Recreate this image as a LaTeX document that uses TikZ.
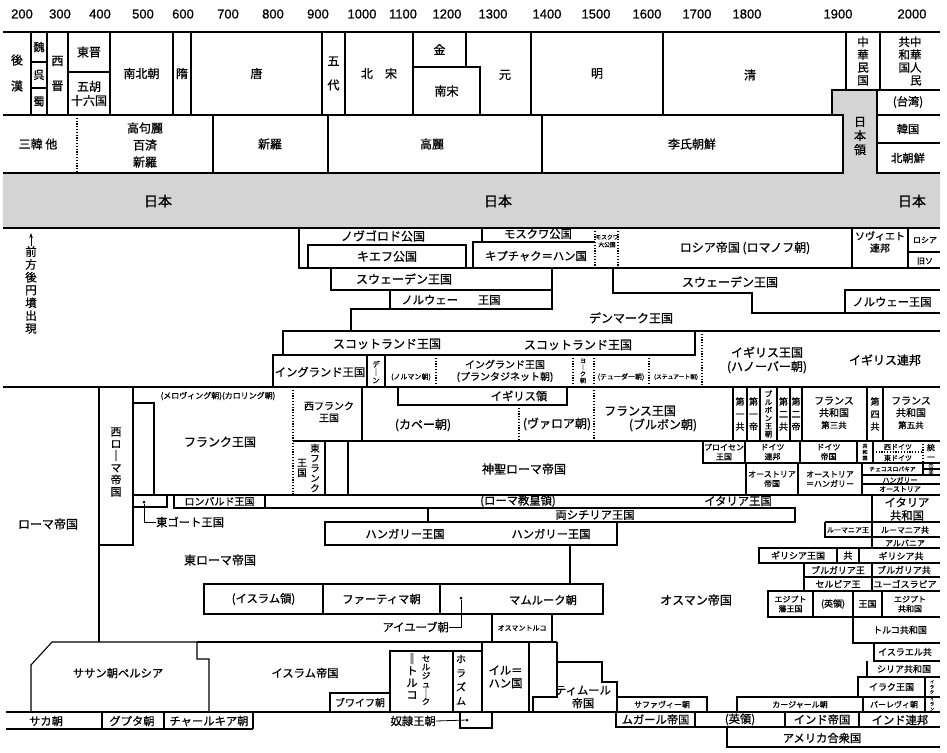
\documentclass[tikz,border=0pt]{standalone}
\usepackage{fontspec}
\setmainfont{Noto Sans CJK JP}[FakeBold=0.8]
\newfontfamily\yearfont{Liberation Sans}[FakeBold=0.8]
\usetikzlibrary{arrows.meta}

\begin{document}
\begin{tikzpicture}[x=1pt, y=-1pt]
  \tikzset{
    era_line/.style={draw=black, line width=1.1pt},
    era_dotted/.style={draw=black, line width=1.1pt, dash pattern=on 1.2pt off 1.6pt},
    era_thin/.style={draw=black, line width=0.8pt},
    japan_fill/.style={fill=black!17},
    era_text/.style={inner sep=0pt, align=center},
    txt_year/.style={inner sep=0pt, font=\yearfont\fontsize{13}{14}\selectfont},
    txt_14/.style={era_text, font=\fontsize{14}{16}\selectfont},
    txt_12/.style={era_text, font=\fontsize{12}{14}\selectfont},
    txt_11/.style={era_text, font=\fontsize{11.3}{13}\selectfont},
    txt_10/.style={era_text, font=\fontsize{10}{12}\selectfont},
    txt_9/.style={era_text, font=\fontsize{9}{10.5}\selectfont},
    txt_8/.style={era_text, font=\fontsize{8}{9.5}\selectfont},
    txt_7/.style={era_text, font=\fontsize{7}{8}\selectfont},
    txt_6/.style={era_text, font=\fontsize{5.8}{7.5}\selectfont},
    txt_5/.style={era_text, font=\fontsize{4.8}{5.5}\selectfont},
    vert_12/.style={era_text, font=\fontsize{11.5}{12.8}\selectfont},
    vert_11/.style={era_text, font=\fontsize{11}{12}\selectfont},
    vert_10/.style={era_text, font=\fontsize{9.5}{10}\selectfont},
    vert_9/.style={era_text, font=\fontsize{9}{12.5}\selectfont},
    vert_8/.style={era_text, font=\fontsize{8.5}{8.6}\selectfont},
    vert_7/.style={era_text, font=\fontsize{7.5}{8}\selectfont},
    vert_6/.style={era_text, font=\fontsize{6}{6.6}\selectfont},
    vert_5/.style={era_text, font=\fontsize{5}{6}\selectfont},
    vert_4/.style={era_text, font=\fontsize{4.2}{5}\selectfont},
    era_dot/.style={circle, fill=black, inner sep=0pt, minimum size=3pt},
    kofun_arrow/.style={-{Stealth[length=5pt, width=3.5pt]}, line width=0.9pt}
  }
  \useasboundingbox[fill=white] (0,0) rectangle (947,752);

  % year axis
  \foreach \yr/\xp in {200/22,300/60,400/100,500/143,600/183,700/228,800/273,900/318,
                       1000/362,1100/403,1200/447,1300/493,1400/547,1500/596,1600/647,
                       1700/697,1800/747,1900/838,2000/912}
    \node[txt_year] (yr-\yr) at (\xp,14) {\yr};

  % China and Korea rows
  \draw[era_line] (3,32) -- (940,32);
  \draw[era_line] (3,115) -- (832,115);
  \draw[era_line] (877,90) -- (940,90);
  \draw[era_line] (877,115) -- (940,115);
  \draw[era_line] (877,143) -- (940,143);
  \draw[era_dotted] (77,115) -- (77,173);
  \foreach \xp in {213,328,542}
    \draw[era_line] (\xp,115) -- (\xp,173);

  % Japan band
  \fill[japan_fill] (3,173) -- (843,173) -- (843,115) -- (832,115) -- (832,90) -- (877,90)
    -- (877,173) -- (940,173) -- (940,228) -- (3,228) -- cycle;
  \draw[era_line] (3,173) -- (843,173) -- (843,115) -- (832,115) -- (832,90) -- (877,90)
    -- (877,173) -- (940,173);
  \draw[era_line] (3,228) -- (940,228);

  % Russia and Scandinavia
  \draw[era_line] (299,228) -- (299,268) -- (473,268);
  \draw[era_line] (482,228) -- (482,242);
  \draw[era_line] (595,242) -- (473,242) -- (473,268) -- (940,268);
  \draw[era_dotted] (595,228) -- (595,268);
  \draw[era_dotted] (618,228) -- (618,268);
  \draw[era_line] (852,228) -- (852,268);
  \draw[era_line] (908,228) -- (908,268);
  \draw[era_line] (908,252) -- (940,252);
  \draw[era_line] (331,268) rectangle (552,290);
  \draw[era_line] (390,290) rectangle (552,309);
  \draw[era_line] (351,331) -- (351,309) -- (390,309);
  \draw[era_line] (613,268) -- (613,293) -- (752,293) -- (752,313) -- (940,313);
  \draw[era_line] (940,290) -- (845,290) -- (845,313);

  % Britain
  \draw[era_line] (283,331) rectangle (695,355);
  \draw[era_line] (695,331) -- (940,331);
  \draw[era_dotted] (702,331) -- (702,387);
  \draw[era_line] (283,355) -- (273,355) -- (273,387);
  \foreach \xp in {367,385}
    \draw[era_line] (\xp,355) -- (\xp,387);
  \foreach \xp in {436,573,594,649}
    \draw[era_dotted] (\xp,355) -- (\xp,387);

  % Western and Central Europe
  \draw[era_line] (3,387) -- (940,387);
  \draw[era_line] (99,387) -- (99,642);
  \draw[era_line] (99,545) -- (133,545) -- (133,387);
  \draw[era_line] (133,403) -- (154,403) -- (154,495);
  \draw[era_dotted] (293,387) -- (293,495);
  \draw[era_line] (362,387) -- (362,441);
  \draw[era_line] (293,441) -- (940,441);
  \draw[era_line] (325,441) -- (325,495);
  \draw[era_line] (348,441) -- (348,495);
  \draw[era_line] (398,387) rectangle (567,405);
  \draw[era_dotted] (519,405) -- (519,441);
  \draw[era_dotted] (594,387) -- (594,441);
  \foreach \xp in {733,747,760,777,790,802,867,883}
    \draw[era_line] (\xp,387) -- (\xp,441);
  \draw[era_line] (873,463) -- (940,463);
  \draw[era_dotted] (923,441) -- (923,463);
  \draw[era_dotted] (873,452) -- (923,452);
  \draw[era_line] (923,469) -- (940,469);
  \draw[era_line] (862,475) -- (940,475);
  \draw[era_line] (862,484) -- (940,484);
  \draw[era_line] (133,495) -- (940,495);
  \draw[era_line] (133,495) rectangle (167,507);
  \draw[era_line] (265,508) -- (428,508);
  \draw[era_line] (428,508) rectangle (795,522);
  \draw[era_line] (325,522) rectangle (617,545);
  \draw[era_line] (872,495) -- (872,548);
  \draw[era_line] (825,522) -- (940,522);
  \draw[era_line] (825,522) -- (825,537) -- (940,537);
  \draw[era_line] (759,548) -- (940,548);
  \draw[era_line] (859,563) -- (940,563);
  \draw[era_line] (872,577) -- (940,577);
  \draw[era_line] (872,591) -- (940,591);
  \draw[era_line] (882,617) -- (940,617);

  % Middle East and India
  \draw[era_line] (570,545) -- (570,584);
  \draw[era_line] (440,584) rectangle (603,614);
  \draw[era_line] (853,617) -- (853,643) -- (940,643);
  \draw[era_line] (874,643) -- (874,661) -- (940,661);
  \draw[era_line] (867,661) -- (867,677) -- (940,677);
  \draw[era_line] (925,697) -- (940,697);
  \draw[era_line] (31,712) -- (31,665) -- (52,642) -- (197,642) -- (197,659) -- (209,659) -- (209,712);
  \draw[era_line] (197,642) -- (557,642);
  \draw[era_line] (390,651) rectangle (453,712);
  \draw[era_line] (453,651) rectangle (482,712);
  \draw[era_line] (557,642) -- (557,697) -- (533,697) -- (533,712);
  \draw[era_line] (557,662) -- (602,662) -- (602,682) -- (617,682) -- (617,697);
  \draw[era_line] (6,712) -- (940,712);
  \draw[era_line] (6,729) -- (253,729);
  \foreach \xp in {102,164,253}
    \draw[era_line] (\xp,712) -- (\xp,729);
  \draw[era_line] (460,712) rectangle (492,728);
  \draw[era_line] (859,727) -- (940,727);
  \draw[era_line] (727,727) -- (727,747) -- (940,747);

  % boxes with a centred label
  \foreach \xa/\ya/\xb/\yb/\nm/\st/\txt in {
      31/32/47/62/c_wei/txt_11/魏,
      31/62/47/88/c_wu/txt_11/呉,
      31/88/47/115/c_shu/txt_11/蜀,
      47/32/68/115/c_xijin/txt_12/{西\\[11pt]晋},
      68/32/110/72/c_dongjin/txt_12/東晋,
      68/72/110/115/c_wuhu/txt_12/{五胡\\十六国},
      110/32/173/115/c_nanbei/txt_12/南北朝,
      173/32/191/115/c_sui/txt_12/隋,
      191/32/322/115/c_tang/txt_12/唐,
      322/32/345/115/c_wudai/txt_12/{五\\[10pt]代},
      345/32/413/115/c_bsong/txt_12/{北\quad 宋},
      413/32/466/67/c_jin/txt_12/金,
      413/67/480/115/c_nsong/txt_12/南宋,
      531/32/663/115/c_ming/txt_12/明,
      846/32/880/90/c_roc/vert_12/{中\\華\\民\\国},
      308/245/466/268/r_kiev/txt_12/キエフ公国,
      703/441/745/463/g_prussia/txt_8/{プロイセン\\王国},
      745/441/800/463/g_bund/txt_8/{ドイツ\\連邦},
      800/441/857/463/g_reich/txt_8/{ドイツ\\帝国},
      857/441/873/463/g_weimar/vert_5/{共\\和\\国},
      746/463/798/495/a_empire/txt_8/{オーストリア\\帝国},
      798/463/862/495/a_hungary/txt_8/{オーストリア\\＝ハンガリー},
      862/463/923/475/e_czech/txt_6/チェコスロバキア,
      174/495/265/508/i_lombard/txt_10/ロンバルド王国,
      759/548/837/563/b_greece/txt_9/ギリシア王国,
      837/548/859/563/b_greece_rep/txt_9/共,
      804/563/872/577/b_bulgaria/txt_9/ブルガリア王,
      804/577/872/591/b_serbia/txt_9/セルビア王,
      768/591/813/617/m_egypt_k/txt_8/{エジプト\\藩王国},
      813/591/853/617/m_egypt_uk/txt_9/(英領),
      853/591/882/617/m_egypt_kd/txt_9/王国,
      858/677/925/697/m_iraq/txt_9/イラク王国,
      863/697/925/712/m_pahlavi/txt_8/パーレヴィ朝,
      737/697/863/712/m_qajar/txt_8/カージャール朝,
      617/697/707/712/m_safavid/txt_8/サファヴィー朝,
      616/712/695/727/n_mughal/txt_11/ムガール帝国,
      695/712/785/727/n_brit/txt_11/(英領),
      785/712/859/727/n_empire/txt_11/インド帝国,
      204/584/323/614/m_islam_r/txt_11/(イスラム領),
      323/584/440/614/m_fatimid/txt_11/ファーティマ朝,
      492/614/552/642/m_ottoman_t/txt_7/オスマントルコ,
      330/693/390/712/m_buyid/txt_10/ブワイフ朝,
      482/642/529/712/m_ilkhan/txt_11/{イル＝\\ハン国}}{
    \draw[era_line] (\xa,\ya) rectangle (\xb,\yb);
    \node[\st] (\nm) at ({(\xa+\xb)/2},{(\ya+\yb)/2}) {\txt};
  }

  % free labels
  \foreach \xp/\yp/\nm/\st/\txt in {
      17/73/c_han/txt_12/{後\\[12pt]漢},
      505/75/c_yuan/txt_12/元,
      750/75/c_qing/txt_12/清,
      910/61/c_prc/vert_12/{共中\\和華\\国人\\　民},
      908/102/c_taiwan/txt_11/(台湾),
      908/129/k_rok/txt_11/韓国,
      908/158/k_dprk/txt_11/北朝鮮,
      38/144/k_samhan/txt_12/{三韓\ 他},
      145/145/k_three/txt_12/{高句麗\\[3pt]百済\\[3pt]新羅},
      270/144/k_silla/txt_12/新羅,
      432/144/k_goryeo/txt_12/高麗,
      692/144/k_joseon/txt_12/李氏朝鮮,
      860/136/j_ryo/txt_12/{日\\本\\領},
      158/201/j_west/txt_14/日本,
      498/201/j_mid/txt_14/日本,
      912/201/j_east/txt_14/日本,
      383/236/r_novgorod/txt_12/ノヴゴロド公国,
      538/234/r_moscow/txt_11/モスクワ公国,
      536/256/r_kipchak/txt_11/キプチャク＝ハン国,
      607/241/r_grand/txt_6/{モスクワ\\大公国},
      745/248/r_empire/txt_12/{ロシア帝国\ (ロマノフ朝)},
      880/242/r_soviet/txt_10/{ソヴィエト\\連邦},
      925/240/r_russia/txt_8/ロシア,
      925/261/r_cis/txt_8/旧ソ,
      404/279/s_sweden/txt_12/スウェーデン王国,
      451/300/s_norway/txt_11/{ノルウェー\hspace{20pt}王国},
      730/282/s_sweden_r/txt_12/スウェーデン王国,
      892/302/s_norway_r/txt_11/ノルウェー王国,
      631/318/s_denmark/txt_12/デンマーク王国,
      387/344/b_scot/txt_12/スコットランド王国,
      578/345/b_scot_r/txt_12/スコットランド王国,
      320/372/b_england/txt_11/イングランド王国,
      376/372/b_dane/vert_7/{デ\\｜\\ン},
      411/377/b_norman/txt_7/(ノルマン朝),
      505/371/b_plantagenet/txt_10/{イングランド王国\\(プランタジネット朝)},
      583/371/b_york/vert_6/{ヨ\\｜\\ク\\朝},
      621/377/b_tudor/txt_7/(テューダー朝),
      676/377/b_stuart/txt_6/(ステュアート朝),
      767/360/b_hanover/txt_12/{イギリス王国\\(ハノーバー朝)},
      885/360/b_commonwealth/txt_12/イギリス連邦,
      31/290/kofun/vert_12/{前\\方\\後\\円\\墳\\出\\現},
      48/524/w_rome/txt_12/ローマ帝国,
      116/462/w_westrome/vert_11/{西\\ロ\\｜\\マ\\帝\\国},
      218/396/w_dynasties/txt_8/{(メロヴィング朝)(カロリング朝)},
      220/442/w_frank/txt_12/フランク王国,
      329/412/w_westfrank/txt_10/{西フランク\\王国},
      315/468/w_eastfrank/vert_10/{東\\フ\\ラ\\ン\\ク},
      302/468/w_eastfrank_k/vert_10/{王\\国},
      423/425/w_capet/txt_12/(カペー朝),
      519/396/w_england_fr/txt_11/イギリス領,
      557/424/w_valois/txt_12/(ヴァロア朝),
      640/411/w_france/txt_12/フランス王国,
      663/425/w_bourbon/txt_12/(ブルボン朝),
      740/414/f_rep1/vert_9/{第\\一\\共},
      753.5/414/f_emp1/vert_9/{第\\一\\帝},
      768.5/414/f_bourbon/vert_7/{ブ\\ル\\ボ\\ン\\王\\朝},
      783.5/414/f_rep2/vert_9/{第\\二\\共},
      796/414/f_emp2/vert_9/{第\\二\\帝},
      834/413/f_rep3/txt_10/{フランス\\共和国\\{\fontsize{8.5}{10}\selectfont 第三共}},
      875/414/f_rep4/vert_9/{第\\四\\共},
      911/413/f_rep5/txt_10/{フランス\\共和国\\{\fontsize{8.5}{10}\selectfont 第五共}},
      898/447/g_west/txt_7/西ドイツ,
      898/458/g_east/txt_7/東ドイツ,
      931/452/g_unified/txt_8/{統\\一},
      931/466/e_one/txt_5/①,
      931/472/e_two/txt_5/②,
      900/480/e_hungary/txt_7/ハンガリー,
      900/489/e_austria/txt_7/オーストリア,
      524/469/h_hre/txt_12/神聖ローマ帝国,
      518/501/i_papal/txt_11/(ローマ教皇領),
      738/501/i_kingdom/txt_11/イタリア王国,
      907/509/i_republic/txt_11/{イタリア\\共和国},
      595/515/i_sicily/txt_11/両シチリア王国,
      405/534/h_hungary_l/txt_11/ハンガリー王国,
      551/534/h_hungary_r/txt_11/ハンガリー王国,
      848/530/e_romania_k/txt_7/ルーマニア王,
      905/530/e_romania_r/txt_8/ルーマニア共,
      905/543/e_albania/txt_8/アルバニア,
      901/556/b_greece_r/txt_9/ギリシア共,
      904/570/b_bulgaria_r/txt_9/ブルガリア共,
      905/584/b_yugo/txt_9/ユーゴスラビア,
      910/604/m_egypt_r/txt_8/{エジプト\\共和国},
      900/630/m_turkey/txt_9/トルコ共和国,
      905/652/m_israel/txt_9/イスラエル共,
      904/669/m_syria/txt_9/シリア共和国,
      932/687/m_iraq_s/vert_4/{イ\\ラ\\ク},
      932/704/m_iran_s/vert_4/{イ\\ラ\\ン},
      900/720/n_union/txt_11/インド連邦,
      822/738/n_usa/txt_11/アメリカ合衆国,
      220/560/m_eastrome/txt_12/東ローマ帝国,
      543/600/m_mamluk/txt_11/マムルーク朝,
      696/600/m_ottoman/txt_12/オスマン帝国,
      118/673/m_sasanian/txt_11/ササン朝ペルシア,
      305/673/m_islam_e/txt_11/イスラム帝国,
      426/680/m_seljuk/vert_8/{セ\\ル\\ジ\\ュ\\｜\\ク},
      412/676/m_seljuk_t/vert_11/{‖\\ト\\ル\\コ},
      461/680/m_khwarazm/txt_10/{ホ\\[2pt]ラ\\[2pt]ズ\\[2pt]ム},
      583/697/m_timur/txt_11/{ティムール\\帝国},
      46/721/n_saka/txt_11/サカ朝,
      132/721/n_gupta/txt_11/グプタ朝,
      209/721/n_chalukya/txt_11/チャールキア朝}{
    \node[\st] (\nm) at (\xp,\yp) {\txt};
  }

  % leader lines
  \coordinate (kofun_tip) at (31,233);
  \draw[kofun_arrow] (kofun.north) -- (kofun_tip);
  \node[era_dot] (ostro_dot) at (144,502) {};
  \node[txt_11, anchor=west] (w_ostrogoth) at (156,522) {東ゴート王国};
  \draw[era_thin] (ostro_dot) |- (w_ostrogoth.west);
  \node[era_dot] (ayyub_dot) at (461,598) {};
  \node[txt_11, anchor=east] (m_ayyubid) at (449,627) {アイユーブ朝};
  \draw[era_thin] (ayyub_dot) |- (m_ayyubid.east);
  \node[era_dot] (slave_dot) at (467,720) {};
  \node[txt_11, anchor=east] (n_slave) at (436,721) {奴隷王朝};
  \draw[era_thin] (n_slave.east) -- (slave_dot);
\end{tikzpicture}
\end{document}
